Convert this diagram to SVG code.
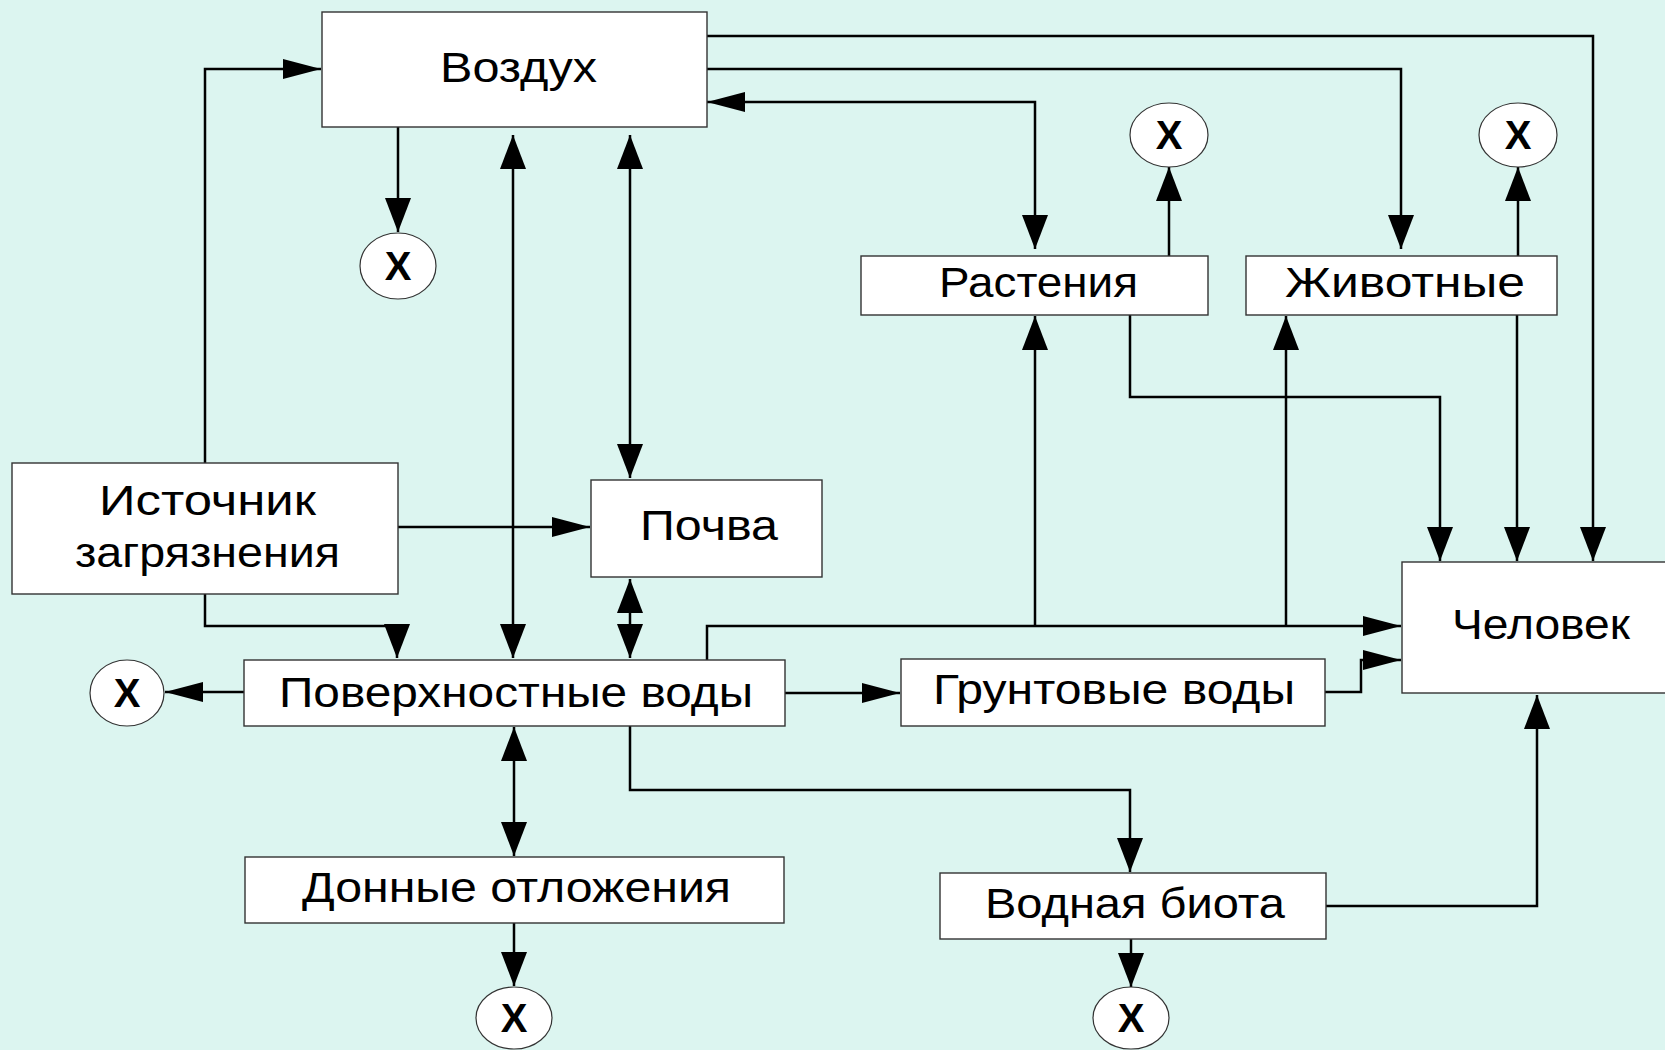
<svg xmlns="http://www.w3.org/2000/svg" width="1665" height="1050" viewBox="0 0 1665 1050">
<style>
.bg{fill:#dcf5f0}
.box{fill:#ffffff;stroke:#333333;stroke-width:1.4}
.x{fill:#ffffff;stroke:#333333;stroke-width:1.2}
.lbl{font-family:"Liberation Sans",Arial,sans-serif;font-size:42px;fill:#000000}
.xl{font-family:"Liberation Sans",Arial,sans-serif;font-size:40px;font-weight:bold;fill:#000000;text-anchor:middle}
.c{fill:none;stroke:#000000;stroke-width:2.5}
</style>
<defs>
<marker id="mv" markerUnits="userSpaceOnUse" markerWidth="36" markerHeight="28" refX="34" refY="13" orient="auto-start-reverse" viewBox="0 0 36 28">
<path d="M0,0 L34,13 L0,26 z" fill="#000000"/>
</marker>
<marker id="mh" markerUnits="userSpaceOnUse" markerWidth="40" markerHeight="22" refX="38" refY="10" orient="auto-start-reverse" viewBox="0 0 40 22">
<path d="M0,0 L38,10 L0,20 z" fill="#000000"/>
</marker>
</defs>
<rect class="bg" x="0" y="0" width="1665" height="1050"/>

<g id="connectors">
<path class="c" d="M205,463 V69 H321" marker-end="url(#mh)"/>
<path class="c" d="M398,127 V232" marker-end="url(#mv)"/>
<path class="c" d="M513,135 V658" marker-start="url(#mv)" marker-end="url(#mv)"/>
<path class="c" d="M630,135 V478" marker-start="url(#mv)" marker-end="url(#mv)"/>
<path class="c" d="M707,36 H1593 V561" marker-end="url(#mv)"/>
<path class="c" d="M707,69 H1401 V249" marker-end="url(#mv)"/>
<path class="c" d="M707,102 H1035 V249" marker-start="url(#mh)" marker-end="url(#mv)"/>
<path class="c" d="M1169,256 V167" marker-end="url(#mv)"/>
<path class="c" d="M1518,256 V167" marker-end="url(#mv)"/>
<path class="c" d="M1130,315 V397 H1440 V561" marker-end="url(#mv)"/>
<path class="c" d="M1517,315 V561" marker-end="url(#mv)"/>
<path class="c" d="M398,527 H590" marker-end="url(#mh)"/>
<path class="c" d="M205,594 V626 H397 V658" marker-end="url(#mv)"/>
<path class="c" d="M630,579 V658" marker-start="url(#mv)" marker-end="url(#mv)"/>
<path class="c" d="M244,692 H165" marker-end="url(#mh)"/>
<path class="c" d="M707,660 V626 H1401" marker-end="url(#mh)"/>
<path class="c" d="M1035,626 V316" marker-end="url(#mv)"/>
<path class="c" d="M1286,626 V316" marker-end="url(#mv)"/>
<path class="c" d="M785,693 H900" marker-end="url(#mh)"/>
<path class="c" d="M1325,692 H1361 V660 H1401" marker-end="url(#mh)"/>
<path class="c" d="M514,727 V856" marker-start="url(#mv)" marker-end="url(#mv)"/>
<path class="c" d="M514,923 V986" marker-end="url(#mv)"/>
<path class="c" d="M630,726 V790 H1130 V872" marker-end="url(#mv)"/>
<path class="c" d="M1131,939 V987" marker-end="url(#mv)"/>
<path class="c" d="M1326,906 H1537 V695" marker-end="url(#mv)"/>
</g>

<g id="vozdukh"><rect class="box" x="322" y="12" width="385" height="115"/><text class="lbl" x="440" y="82" textLength="157" lengthAdjust="spacingAndGlyphs">Воздух</text></g>
<g id="rasteniya"><rect class="box" x="861" y="256" width="347" height="59"/><text class="lbl" x="939" y="297" textLength="199" lengthAdjust="spacingAndGlyphs">Растения</text></g>
<g id="zhivotnye"><rect class="box" x="1246" y="256" width="311" height="59"/><text class="lbl" x="1285" y="297" textLength="240" lengthAdjust="spacingAndGlyphs">Животные</text></g>
<g id="istochnik"><rect class="box" x="12" y="463" width="386" height="131"/><text class="lbl" x="99" y="515" textLength="217" lengthAdjust="spacingAndGlyphs">Источник</text><text class="lbl" x="75" y="567" textLength="265" lengthAdjust="spacingAndGlyphs">загрязнения</text></g>
<g id="pochva"><rect class="box" x="591" y="480" width="231" height="97"/><text class="lbl" x="640" y="540" textLength="138" lengthAdjust="spacingAndGlyphs">Почва</text></g>
<g id="poverkhnostnye"><rect class="box" x="244" y="660" width="541" height="66"/><text class="lbl" x="279" y="707" textLength="474" lengthAdjust="spacingAndGlyphs">Поверхностные воды</text></g>
<g id="gruntovye"><rect class="box" x="901" y="659" width="424" height="67"/><text class="lbl" x="933" y="704" textLength="362" lengthAdjust="spacingAndGlyphs">Грунтовые воды</text></g>
<g id="chelovek"><rect class="box" x="1402" y="562" width="270" height="131"/><text class="lbl" x="1452" y="639" textLength="178" lengthAdjust="spacingAndGlyphs">Человек</text></g>
<g id="donnye"><rect class="box" x="245" y="857" width="539" height="66"/><text class="lbl" x="302" y="902" textLength="429" lengthAdjust="spacingAndGlyphs">Донные отложения</text></g>
<g id="vodnaya"><rect class="box" x="940" y="873" width="386" height="66"/><text class="lbl" x="985" y="918" textLength="300" lengthAdjust="spacingAndGlyphs">Водная биота</text></g>

<g id="x-vozdukh"><ellipse class="x" cx="398" cy="266" rx="38" ry="33"/><text class="xl" x="398" y="280">X</text></g>
<g id="x-rasteniya"><ellipse class="x" cx="1169" cy="135" rx="39" ry="32"/><text class="xl" x="1169" y="149">X</text></g>
<g id="x-zhivotnye"><ellipse class="x" cx="1518" cy="135" rx="39" ry="32"/><text class="xl" x="1518" y="149">X</text></g>
<g id="x-poverkhnostnye"><ellipse class="x" cx="127" cy="693" rx="37" ry="33"/><text class="xl" x="127" y="707">X</text></g>
<g id="x-donnye"><ellipse class="x" cx="514" cy="1018" rx="38" ry="31"/><text class="xl" x="514" y="1032">X</text></g>
<g id="x-vodnaya"><ellipse class="x" cx="1131" cy="1018" rx="38" ry="31"/><text class="xl" x="1131" y="1032">X</text></g>
</svg>
